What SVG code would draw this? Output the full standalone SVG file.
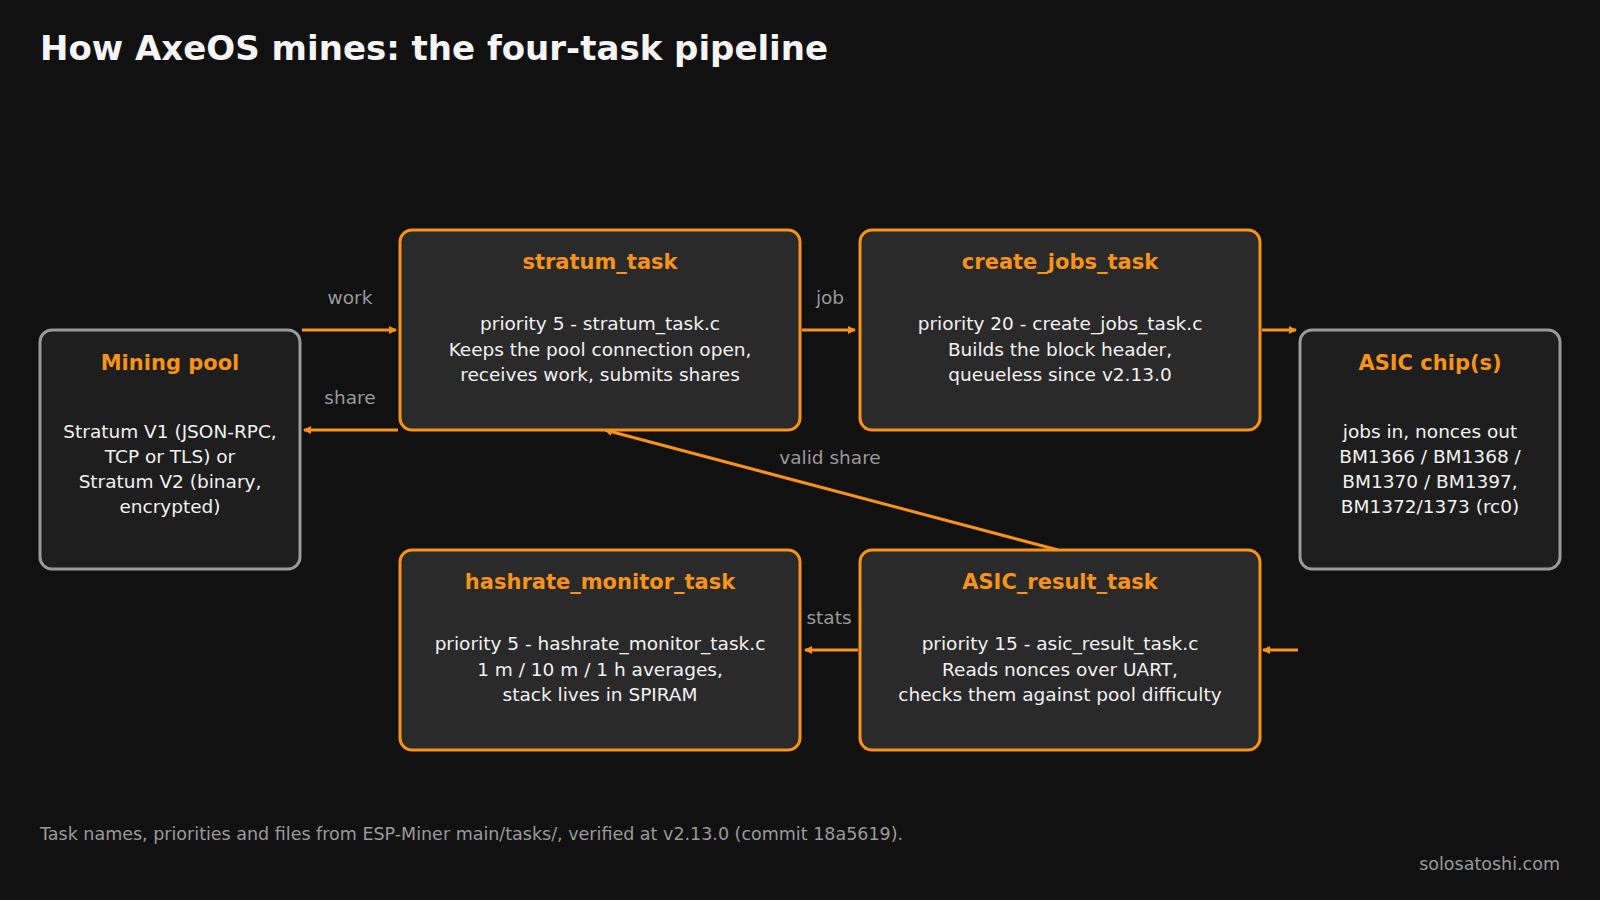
<svg xmlns="http://www.w3.org/2000/svg" width="1600" height="900" viewBox="0 0 1600 900">
<style>
text{font-family:"DejaVu Sans","Noto Sans",sans-serif}
.t{fill:#f7931a;font-weight:bold;font-size:21px;text-anchor:middle}
.b{fill:#f2f2f2;font-size:18.5px;text-anchor:middle}
.l{fill:#9a9a9a;font-size:18.5px;text-anchor:middle}
.task{fill:#2a2a2a;stroke:#f7931a;stroke-width:3}
.ext{fill:#1e1e1e;stroke:#9a9a9a;stroke-width:3}
.c{stroke:#f7931a;stroke-width:3;fill:none;marker-end:url(#a)}
</style>
<defs><marker id="a" markerWidth="8" markerHeight="8" refX="7" refY="4" orient="auto" markerUnits="userSpaceOnUse" viewBox="0 0 8 8"><path d="M0,0L8,4L0,8z" fill="#f7931a"/></marker>
</defs>
<rect width="1600" height="900" fill="#111"/>
<text x="40" y="60" fill="#f5f5f5" font-size="34" font-weight="bold">How AxeOS mines: the four-task pipeline</text>
<g id="connectors">
<path class="c" d="M302,330H396"/>
<path class="c" d="M398,430H304"/>
<path class="c" d="M802,330H855"/>
<path class="c" d="M1262,330H1296"/>
<path class="c" d="M1298,650H1263"/>
<path class="c" d="M858,650H805"/>
<path class="c" d="M1058,550L605,430"/>
<text class="l" x="350" y="304">work</text>
<text class="l" x="350" y="404">share</text>
<text class="l" x="830" y="304">job</text>
<text class="l" x="830" y="464">valid share</text>
<text class="l" x="829" y="624">stats</text>
</g>
<g id="pool"><rect class="ext" x="40" y="330" width="260" height="239" rx="12"/>
<text class="t" x="170" y="370">Mining pool</text>
<text class="b" x="170" y="438">Stratum V1 (JSON-RPC,</text><text class="b" x="170" y="463">TCP or TLS) or</text><text class="b" x="170" y="488">Stratum V2 (binary,</text><text class="b" x="170" y="513">encrypted)</text></g>
<g id="stratum"><rect class="task" x="400" y="230" width="400" height="200" rx="12"/>
<text class="t" x="600" y="269">stratum_task</text>
<text class="b" x="600" y="330">priority 5 - stratum_task.c</text><text class="b" x="600" y="356">Keeps the pool connection open,</text><text class="b" x="600" y="381">receives work, submits shares</text></g>
<g id="createjobs"><rect class="task" x="860" y="230" width="400" height="200" rx="12"/>
<text class="t" x="1060" y="269">create_jobs_task</text>
<text class="b" x="1060" y="330">priority 20 - create_jobs_task.c</text><text class="b" x="1060" y="356">Builds the block header,</text><text class="b" x="1060" y="381">queueless since v2.13.0</text></g>
<g id="asic"><rect class="ext" x="1300" y="330" width="260" height="239" rx="12"/>
<text class="t" x="1430" y="370">ASIC chip(s)</text>
<text class="b" x="1430" y="438">jobs in, nonces out</text><text class="b" x="1430" y="463">BM1366 / BM1368 /</text><text class="b" x="1430" y="488">BM1370 / BM1397,</text><text class="b" x="1430" y="513">BM1372/1373 (rc0)</text></g>
<g id="hashrate"><rect class="task" x="400" y="550" width="400" height="200" rx="12"/>
<text class="t" x="600" y="589">hashrate_monitor_task</text>
<text class="b" x="600" y="650">priority 5 - hashrate_monitor_task.c</text><text class="b" x="600" y="676">1 m / 10 m / 1 h averages,</text><text class="b" x="600" y="701">stack lives in SPIRAM</text></g>
<g id="result"><rect class="task" x="860" y="550" width="400" height="200" rx="12"/>
<text class="t" x="1060" y="589">ASIC_result_task</text>
<text class="b" x="1060" y="650">priority 15 - asic_result_task.c</text><text class="b" x="1060" y="676">Reads nonces over UART,</text><text class="b" x="1060" y="701">checks them against pool difficulty</text></g>
<text x="40" y="840" fill="#9a9a9a" font-size="17.5">Task names, priorities and files from ESP-Miner main/tasks/, verified at v2.13.0 (commit 18a5619).</text>
<text x="1560" y="870" fill="#9a9a9a" font-size="17.5" text-anchor="end">solosatoshi.com</text>
</svg>
